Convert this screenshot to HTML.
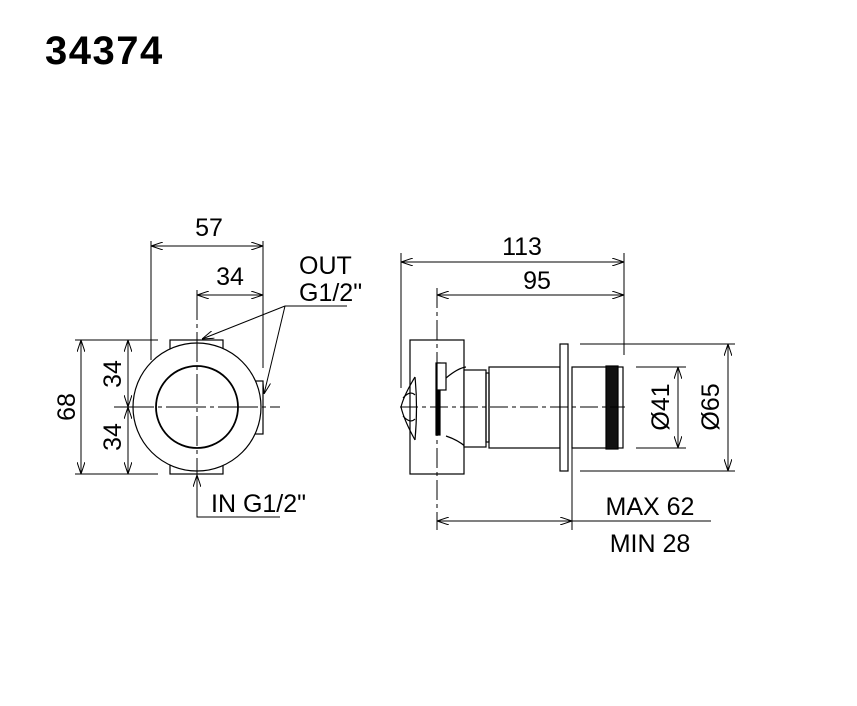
<!DOCTYPE html>
<html><head><style>
html,body{margin:0;padding:0;background:#fff;}
svg{display:block;}
text{font-family:"Liberation Sans",sans-serif;fill:#000;}
</style></head><body>
<svg width="857" height="706" viewBox="0 0 857 706" xmlns="http://www.w3.org/2000/svg">
<defs>
<marker id="a" viewBox="0 0 12 8" refX="12" refY="4" markerWidth="12" markerHeight="8" orient="auto-start-reverse" markerUnits="userSpaceOnUse">
<path d="M0,0 L12,4 L0,8" fill="none" stroke="#000" stroke-width="1"/>
</marker>
</defs>
<text x="45" y="64" font-size="40" font-weight="bold" style="letter-spacing:1.5px">34374</text>

<g stroke="#000" stroke-width="1.2" fill="none">
<rect x="170" y="340" width="53" height="134" fill="none"/>
<rect x="255" y="381" width="8" height="53"/>
<circle cx="197" cy="407" r="64" fill="#fff"/>
<circle cx="197" cy="407" r="41" stroke-width="1.8"/>
<line x1="114" y1="407" x2="280" y2="407" stroke-dasharray="40,4,4,4" stroke-width="1"/>
<line x1="197" y1="290" x2="197" y2="474" stroke-dasharray="30,4,4,4" stroke-width="1"/>
<line x1="151" y1="241" x2="151" y2="360" stroke-width="1"/>
<line x1="263" y1="241" x2="263" y2="368" stroke-width="1"/>
<line x1="151" y1="246" x2="263" y2="246" stroke-width="1" marker-start="url(#a)" marker-end="url(#a)"/>
<line x1="197" y1="295" x2="263" y2="295" stroke-width="1" marker-start="url(#a)" marker-end="url(#a)"/>
<line x1="75" y1="340" x2="158" y2="340" stroke-width="1"/>
<line x1="75" y1="474" x2="158" y2="474" stroke-width="1"/>
<line x1="81" y1="340" x2="81" y2="474" stroke-width="1" marker-start="url(#a)" marker-end="url(#a)"/>
<line x1="128" y1="340" x2="128" y2="407" stroke-width="1" marker-start="url(#a)" marker-end="url(#a)"/>
<line x1="128" y1="407" x2="128" y2="474" stroke-width="1" marker-start="url(#a)" marker-end="url(#a)"/>
<line x1="285" y1="306" x2="347" y2="306" stroke-width="1"/>
<line x1="285" y1="306" x2="202" y2="339" stroke-width="1" marker-end="url(#a)"/>
<line x1="285" y1="306" x2="264" y2="394" stroke-width="1" marker-end="url(#a)"/>
<polyline points="197,474 197,517 280,517" stroke-width="1"/>
<line x1="197" y1="500" x2="197" y2="475" stroke-width="1" marker-end="url(#a)"/>

<line x1="401" y1="253" x2="401" y2="388" stroke-width="1"/>
<line x1="624" y1="253" x2="624" y2="355" stroke-width="1"/>
<line x1="401" y1="262" x2="624" y2="262" stroke-width="1" marker-start="url(#a)" marker-end="url(#a)"/>
<line x1="437" y1="295" x2="624" y2="295" stroke-width="1" marker-start="url(#a)" marker-end="url(#a)"/>
<rect x="410" y="340" width="54" height="134"/>
<path d="M415,377 Q404,395 401,407 Q404,420 415,440" />
<path d="M415,377 Q418,407 415,440" />
<path d="M403,398 Q410,390 415,395 M403,416 Q410,424 415,419"/>
<rect x="436" y="363" width="4" height="72" fill="#000"/>
<rect x="437" y="363" width="9" height="27" fill="#fff"/>
<path d="M446,378 Q458,368 466,367 M446,436 Q458,440 466,447"/>
<rect x="464" y="370" width="22" height="77" fill="#fff"/>
<rect x="486" y="373" width="3" height="69"/>
<rect x="489" y="367" width="71" height="81"/>
<rect x="560" y="344" width="8" height="127" fill="#fff"/>
<rect x="572" y="367" width="51" height="81"/>
<rect x="606" y="366" width="12" height="83" fill="#111"/>
<line x1="400" y1="407" x2="625" y2="407" stroke-dasharray="18,4,4,4" stroke-width="1"/>
<line x1="437" y1="288" x2="437" y2="530" stroke-dasharray="20,4,4,4" stroke-width="1"/>
<line x1="636" y1="367" x2="686" y2="367" stroke-width="1"/>
<line x1="636" y1="448" x2="686" y2="448" stroke-width="1"/>
<line x1="678" y1="367" x2="678" y2="448" stroke-width="1" marker-start="url(#a)" marker-end="url(#a)"/>
<line x1="580" y1="344" x2="735" y2="344" stroke-width="1"/>
<line x1="580" y1="471" x2="735" y2="471" stroke-width="1"/>
<line x1="728" y1="344" x2="728" y2="471" stroke-width="1" marker-start="url(#a)" marker-end="url(#a)"/>
<line x1="572" y1="425" x2="572" y2="530" stroke-width="1"/>
<line x1="437" y1="521" x2="572" y2="521" stroke-width="1" marker-start="url(#a)" marker-end="url(#a)"/>
<line x1="572" y1="521" x2="711" y2="521" stroke-width="1"/>
</g>

<g font-size="25">
<text x="209" y="236" text-anchor="middle">57</text>
<text x="230" y="285" text-anchor="middle">34</text>
<text x="299" y="274">OUT</text>
<text x="299" y="301">G1/2"</text>
<text x="211" y="512">IN G1/2"</text>
<text transform="translate(75,407) rotate(-90)" text-anchor="middle">68</text>
<text transform="translate(121,374) rotate(-90)" text-anchor="middle">34</text>
<text transform="translate(121,437) rotate(-90)" text-anchor="middle">34</text>
<text x="522" y="255" text-anchor="middle">113</text>
<text x="537" y="289" text-anchor="middle">95</text>
<text transform="translate(669,407) rotate(-90)" text-anchor="middle">Ø41</text>
<text transform="translate(719,407) rotate(-90)" text-anchor="middle">Ø65</text>
<text x="650" y="515" text-anchor="middle">MAX 62</text>
<text x="650" y="552" text-anchor="middle">MIN 28</text>
</g>
</svg>
</body></html>
